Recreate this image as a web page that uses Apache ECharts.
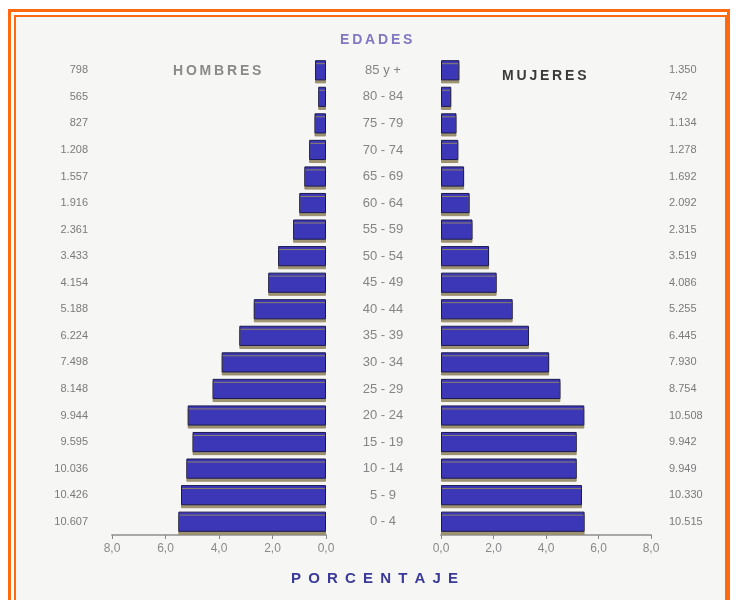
<!DOCTYPE html>
<html>
<head>
<meta charset="utf-8">
<script src="https://cdn.jsdelivr.net/npm/echarts@6/dist/echarts.min.js"></script>
<style>
  html, body { margin: 0; padding: 0; background: #fff; }
  #chart { width: 733px; height: 600px; }
</style>
</head>
<body>
<div id="chart"></div>
<script>
// age groups, bottom to top
const ages = ["0 - 4", "5 - 9", "10 - 14", "15 - 19", "20 - 24", "25 - 29", "30 - 34", "35 - 39", "40 - 44",
  "45 - 49", "50 - 54", "55 - 59", "60 - 64", "65 - 69", "70 - 74", "75 - 79", "80 - 84", "85 y +"];

const menPct = [5.52, 5.42, 5.22, 4.99, 5.17, 4.24, 3.90, 3.24, 2.70, 2.16, 1.79, 1.23, 1.00, 0.81, 0.63, 0.43, 0.29, 0.41];
const womenPct = [5.47, 5.37, 5.17, 5.17, 5.46, 4.55, 4.12, 3.35, 2.73, 2.12, 1.83, 1.20, 1.09, 0.88, 0.66, 0.59, 0.39, 0.70];

const menCount = ["10.607", "10.426", "10.036", "9.595", "9.944", "8.148", "7.498", "6.224", "5.188",
  "4.154", "3.433", "2.361", "1.916", "1.557", "1.208", "827", "565", "798"];
const womenCount = ["10.515", "10.330", "9.949", "9.942", "10.508", "8.754", "7.930", "6.445", "5.255",
  "4.086", "3.519", "2.315", "2.092", "1.692", "1.278", "1.134", "742", "1.350"];

const font = "Liberation Sans";
const thin = "\u2009";
const barStyle = {
  color: "#3b37b6",
  borderColor: "#1b1a4e",
  borderWidth: 1,
  shadowColor: "rgba(150,138,100,0.9)",
  shadowOffsetY: 3,
  shadowBlur: 0
};

function pctLabel(v) {
  return v.toFixed(1).replace(".", ",");
}

function spaced(word, sep) {
  return word.split("").join(sep);
}

function xAxisFor(gridIndex, inverse) {
  return {
    type: "value",
    gridIndex: gridIndex,
    min: 0,
    max: 8,
    interval: 2,
    inverse: inverse,
    splitLine: { show: false },
    axisLine: { show: true, lineStyle: { color: "#a8a8a8", width: 2 } },
    axisTick: { show: true, length: 4, lineStyle: { color: "#888" } },
    axisLabel: { formatter: pctLabel, color: "#8a8a8a", fontSize: 12, fontFamily: font, margin: 8 }
  };
}

const myChart = echarts.init(document.getElementById("chart"));
const option = {
  backgroundColor: "#fff",
  animation: false,
  graphic: [
    { type: "rect", z: -10, shape: { x: 16, y: 17, width: 712, height: 600 }, style: { fill: "#f6f6f4" } },
    { type: "rect", shape: { x: 9.5, y: 10.5, width: 719, height: 620 }, style: { fill: null, stroke: "#ff6a10", lineWidth: 3 } },
    { type: "rect", shape: { x: 15, y: 16, width: 711, height: 620 }, style: { fill: null, stroke: "#ff6a10", lineWidth: 2 } },
    { type: "text", left: 340, top: 33, style: { text: spaced("EDADES", thin), fill: "#8078c0", font: "bold 14px " + font } },
    { type: "text", left: 173, top: 64, style: { text: spaced("HOMBRES", thin), fill: "#8a8a8a", font: "bold 14px " + font } },
    { type: "text", left: 502, top: 69, style: { text: spaced("MUJERES", thin), fill: "#3a3a3a", font: "bold 14px " + font } },
    { type: "text", left: 291, top: 571, style: { text: spaced("PORCENTAJE", " " + thin), fill: "#3a3a98", font: "bold 15px " + font } }
  ],
  grid: [
    { left: 112, right: 407, top: 57, bottom: 65 },
    { left: 441, right: 82, top: 57, bottom: 65 }
  ],
  xAxis: [xAxisFor(0, true), xAxisFor(1, false)],
  yAxis: [
    {
      type: "category", gridIndex: 0, position: "right", data: ages,
      axisLine: { show: false }, axisTick: { show: false },
      axisLabel: { align: "center", margin: 57, color: "#858585", fontSize: 13, fontFamily: font }
    },
    {
      type: "category", gridIndex: 0, position: "left", data: menCount,
      axisLine: { show: false }, axisTick: { show: false },
      axisLabel: { margin: 24, color: "#7a7a7a", fontSize: 11, fontFamily: font }
    },
    {
      type: "category", gridIndex: 1, position: "right", data: womenCount,
      axisLine: { show: false }, axisTick: { show: false },
      axisLabel: { margin: 18, color: "#7a7a7a", fontSize: 11, fontFamily: font }
    }
  ],
  series: [
    { name: "HOMBRES", type: "bar", xAxisIndex: 0, yAxisIndex: 0, data: menPct, barCategoryGap: "24%", itemStyle: barStyle },
    { name: "MUJERES", type: "bar", xAxisIndex: 1, yAxisIndex: 2, data: womenPct, barCategoryGap: "24%", itemStyle: barStyle }
  ]
};
myChart.setOption(option);
</script>
</body>
</html>
